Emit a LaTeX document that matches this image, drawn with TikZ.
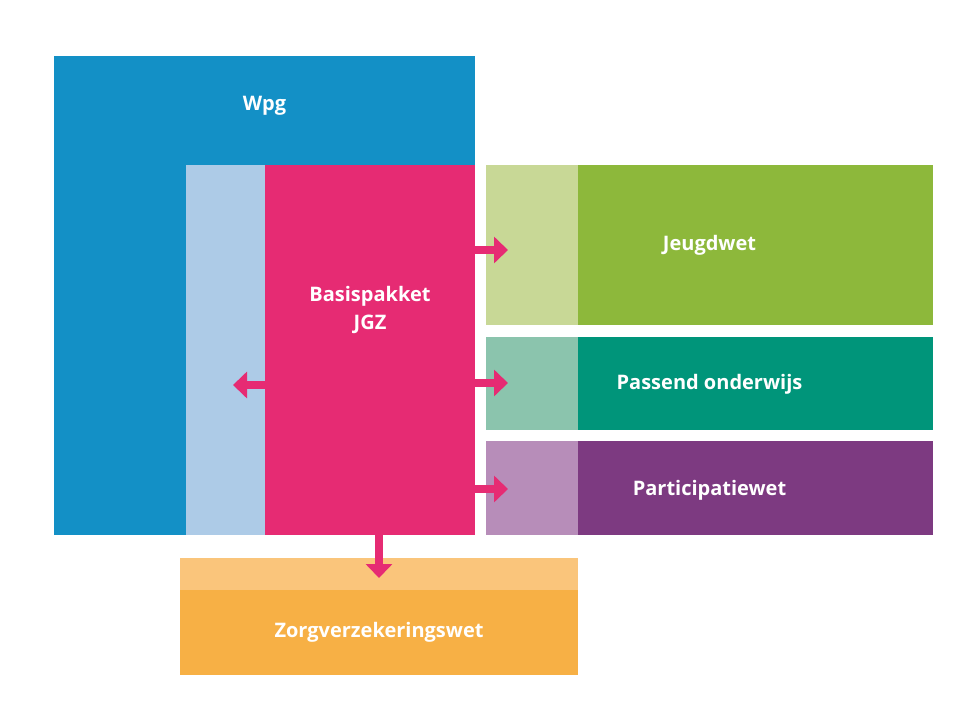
\documentclass[tikz,border=0pt]{standalone}
\usepackage{fontspec}
\setmainfont{Open Sans}
\usetikzlibrary{arrows.meta}
\definecolor{wpgblue}{HTML}{1390C6}
\definecolor{lightblue}{HTML}{ADCBE7}
\definecolor{jgzpink}{HTML}{E62B73}
\definecolor{lgreen}{HTML}{C8D896}
\definecolor{dgreen}{HTML}{8DB83B}
\definecolor{lteal}{HTML}{8BC4AD}
\definecolor{dteal}{HTML}{00957A}
\definecolor{lpurple}{HTML}{B78DB9}
\definecolor{dpurple}{HTML}{7D3A81}
\definecolor{lorange}{HTML}{FAC57B}
\definecolor{dorange}{HTML}{F7B045}
\tikzset{
  blk/.style={draw=none,inner sep=0pt,outer sep=0pt,minimum width=#1},
  lbl/.style={text=white,font=\fontsize{20}{28}\selectfont\bfseries,align=center,inner sep=0pt},
  arr/.style={draw=jgzpink,line width=8pt,-{Triangle[width=26pt,length=14pt]}},
}
\begin{document}
\begin{tikzpicture}[x=1pt,y=-1pt]
\useasboundingbox (0,0) rectangle (960,720);
% Wpg
\path[fill=wpgblue] (54,56) rectangle (475,535);
\node[lbl] (wpgtxt) at (264.5,106) {Wpg};
% light blue strip
\path[fill=lightblue] (186,165) rectangle (265,535);
% pink
\path[fill=jgzpink] (265,165) rectangle (475,535);
\coordinate (pinkE) at (474,0);
\coordinate (pinkW) at (265,0);
\coordinate (pinkS) at (0,535);
\node[lbl] (jgz) at (370,310) {Basispakket\\JGZ};
% Jeugdwet
\path[fill=lgreen] (486,165) rectangle (578,325);
\path[fill=dgreen] (578,165) rectangle (933,325);
\node[lbl] (jeugd) at (709.5,245) {Jeugdwet};
% Passend onderwijs
\path[fill=lteal] (486,337) rectangle (578,430);
\path[fill=dteal] (578,337) rectangle (933,430);
\node[lbl] (passend) at (709.5,384) {Passend onderwijs};
% Participatiewet
\path[fill=lpurple] (486,441) rectangle (578,535);
\path[fill=dpurple] (578,441) rectangle (933,535);
\node[lbl] (partic) at (709.5,490) {Participatiewet};
% Zorgverzekeringswet
\path[fill=lorange] (180,558) rectangle (578,590);
\path[fill=dorange] (180,590) rectangle (578,675);
\node[lbl] (zorg) at (379,632) {Zorgverzekeringswet};
% arrow end points
\coordinate (tJ) at (508,250);
\coordinate (tP) at (508,383);
\coordinate (tQ) at (508,489);
\coordinate (tL) at (233,385);
\coordinate (tZ) at (379,578);
% arrows
\draw[arr] (pinkE |- tJ) -- (tJ);
\draw[arr] (pinkE |- tP) -- (tP);
\draw[arr] (pinkE |- tQ) -- (tQ);
\draw[arr] (pinkW |- tL) -- (tL);
\draw[arr] (tZ |- pinkS) -- (tZ);
\end{tikzpicture}
\end{document}
